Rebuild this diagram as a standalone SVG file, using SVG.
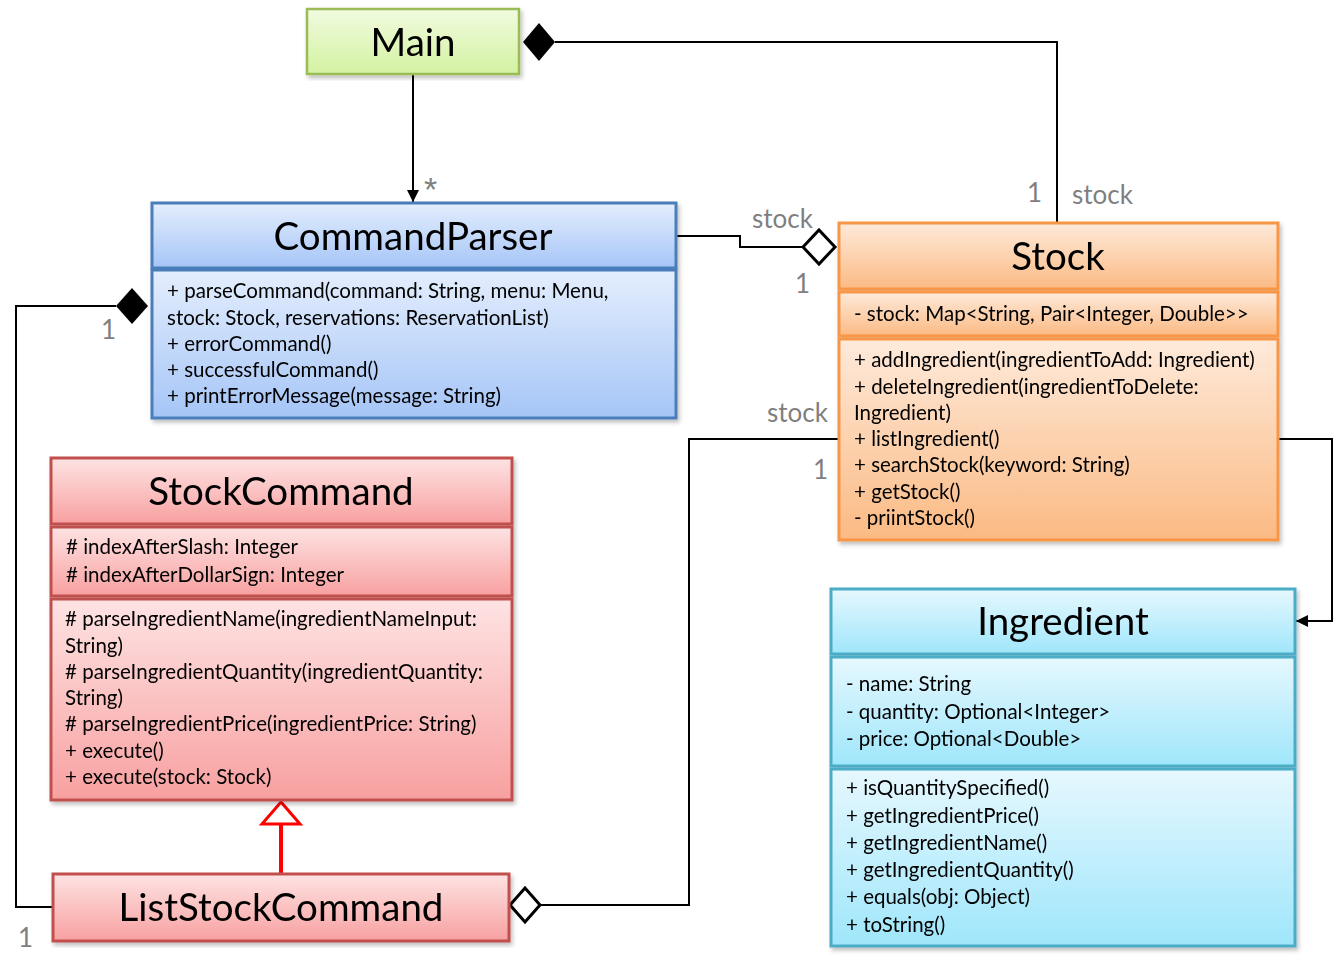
<svg xmlns="http://www.w3.org/2000/svg" width="1334" height="973" viewBox="0 0 1334 973">
<defs>
<linearGradient id="gGreen" x1="0" y1="0" x2="0" y2="1"><stop offset="0" stop-color="#f1fbdf"/><stop offset="1" stop-color="#d3f2a1"/></linearGradient>
<linearGradient id="gBlue" x1="0" y1="0" x2="0" y2="1"><stop offset="0" stop-color="#e4eefd"/><stop offset="1" stop-color="#a5c5f7"/></linearGradient>
<linearGradient id="gOrange" x1="0" y1="0" x2="0" y2="1"><stop offset="0" stop-color="#feeadb"/><stop offset="1" stop-color="#fbba83"/></linearGradient>
<linearGradient id="gRed" x1="0" y1="0" x2="0" y2="1"><stop offset="0" stop-color="#fee3e3"/><stop offset="1" stop-color="#f8a0a0"/></linearGradient>
<linearGradient id="gCyan" x1="0" y1="0" x2="0" y2="1"><stop offset="0" stop-color="#e6f8fe"/><stop offset="1" stop-color="#9fe6fb"/></linearGradient>
<filter id="sh" x="-5%" y="-5%" width="110%" height="115%"><feDropShadow dx="2" dy="3" stdDeviation="2" flood-color="#000" flood-opacity="0.25"/></filter>
<marker id="arrow" viewBox="0 0 12 12" refX="12" refY="6" markerWidth="12" markerHeight="12" markerUnits="userSpaceOnUse" orient="auto"><path d="M0,0 L12,6 L0,12 Z" fill="#000"/></marker>
</defs>
<style>
.title{font-family:Lato,"Liberation Sans",sans-serif;font-size:38.5px;fill:#000;text-anchor:middle}
.t{font-family:Lato,"Liberation Sans",sans-serif;font-size:20.5px;fill:#000}
.lbl{font-family:Lato,"Liberation Sans",sans-serif;font-size:26px;fill:#7f7f7f}
.star{font-family:"Liberation Sans",sans-serif;font-size:34px;fill:#7f7f7f}
.conn{fill:none;stroke:#000;stroke-width:2}
.green{fill:url(#gGreen);stroke:#9bbb59;stroke-width:2.5}
.blue{fill:url(#gBlue);stroke:#4a7ebb;stroke-width:3}
.orange{fill:url(#gOrange);stroke:#f79646;stroke-width:3}
.red{fill:url(#gRed);stroke:#c0504d;stroke-width:3}
.cyan{fill:url(#gCyan);stroke:#4bacc6;stroke-width:3}
</style>

<g id="connectors">
  <!-- Main -> CommandParser -->
  <line class="conn" x1="413" y1="74" x2="413" y2="202" marker-end="url(#arrow)"/>
  <text class="star" x="424" y="201">*</text>
  <!-- Main composition Stock -->
  <polyline class="conn" points="555,42 1057,42 1057,222"/>
  <path d="M523,42 L539,23 L555,42 L539,61 Z" fill="#000"/>
  <text class="lbl" x="1027" y="202">1</text>
  <text class="lbl" x="1072" y="204">stock</text>
  <!-- CommandParser aggregation Stock -->
  <polyline class="conn" points="676,236 740,236 740,247 803,247"/>
  <path d="M803,247 L819,230 L835,247 L819,264 Z" fill="#fff" stroke="#000" stroke-width="3"/>
  <text class="lbl" x="752" y="228">stock</text>
  <text class="lbl" x="795" y="293">1</text>
  <!-- Stock -> Ingredient -->
  <polyline class="conn" points="1279,439 1332,439 1332,621 1296,621" marker-end="url(#arrow)"/>
  <!-- ListStockCommand aggregation Stock -->
  <polyline class="conn" points="838,439 689,439 689,905 541,905"/>
  <path d="M510,905 L525,888 L540,905 L525,922 Z" fill="#fff" stroke="#000" stroke-width="3"/>
  <text class="lbl" x="767" y="422">stock</text>
  <text class="lbl" x="813" y="479">1</text>
  <!-- ListStockCommand composition CommandParser -->
  <polyline class="conn" points="116,306 16,306 16,907 53,907"/>
  <path d="M116,306 L132,288 L148,306 L132,324 Z" fill="#000"/>
  <text class="lbl" x="101" y="339">1</text>
  <text class="lbl" x="18" y="947">1</text>
  <!-- Generalization -->
  <line x1="281" y1="824" x2="281" y2="874" stroke="#ff0000" stroke-width="4"/>
  <path d="M281,802 L300,824 L262,824 Z" fill="#fff" stroke="#ff0000" stroke-width="3"/>
</g>

<g id="main" filter="url(#sh)">
  <rect class="green" x="307" y="9" width="212" height="65"/>
  <text class="title" x="413" y="56">Main</text>
</g>

<g id="commandparser" filter="url(#sh)">
  <rect class="blue" x="152" y="203" width="524" height="65"/>
  <rect class="blue" x="152" y="270" width="524" height="148"/>
  <text class="title" x="413" y="250">CommandParser</text>
  <text class="t" x="167" y="298">+ parseCommand(command: String, menu: Menu,</text>
  <text class="t" x="167" y="325">stock: Stock, reservations: ReservationList)</text>
  <text class="t" x="167" y="351">+ errorCommand()</text>
  <text class="t" x="167" y="377">+ successfulCommand()</text>
  <text class="t" x="167" y="403">+ printErrorMessage(message: String)</text>
</g>

<g id="stock" filter="url(#sh)">
  <rect class="orange" x="839" y="223" width="439" height="66"/>
  <rect class="orange" x="839" y="292" width="439" height="44"/>
  <rect class="orange" x="839" y="339" width="439" height="201"/>
  <text class="title" x="1058" y="270">Stock</text>
  <text class="t" x="854" y="321">- stock: Map&lt;String, Pair&lt;Integer, Double&gt;&gt;</text>
  <text class="t" x="854" y="367">+ addIngredient(ingredientToAdd: Ingredient)</text>
  <text class="t" x="854" y="394">+ deleteIngredient(ingredientToDelete:</text>
  <text class="t" x="854" y="420">Ingredient)</text>
  <text class="t" x="854" y="446">+ listIngredient()</text>
  <text class="t" x="854" y="472">+ searchStock(keyword: String)</text>
  <text class="t" x="854" y="499">+ getStock()</text>
  <text class="t" x="854" y="525">- priintStock()</text>
</g>

<g id="stockcommand" filter="url(#sh)">
  <rect class="red" x="51" y="458" width="461" height="66"/>
  <rect class="red" x="51" y="527" width="461" height="69"/>
  <rect class="red" x="51" y="599" width="461" height="201"/>
  <text class="title" x="281" y="505">StockCommand</text>
  <text class="t" x="66" y="554"># indexAfterSlash: Integer</text>
  <text class="t" x="66" y="582"># indexAfterDollarSign: Integer</text>
  <text class="t" x="65" y="626"># parseIngredientName(ingredientNameInput:</text>
  <text class="t" x="65" y="653">String)</text>
  <text class="t" x="65" y="679"># parseIngredientQuantity(ingredientQuantity:</text>
  <text class="t" x="65" y="705">String)</text>
  <text class="t" x="65" y="731"># parseIngredientPrice(ingredientPrice: String)</text>
  <text class="t" x="65" y="758">+ execute()</text>
  <text class="t" x="65" y="784">+ execute(stock: Stock)</text>
</g>

<g id="liststockcommand" filter="url(#sh)">
  <rect class="red" x="53" y="874" width="456" height="67"/>
  <text class="title" x="281" y="921">ListStockCommand</text>
</g>

<g id="ingredient" filter="url(#sh)">
  <rect class="cyan" x="831" y="589" width="464" height="65"/>
  <rect class="cyan" x="831" y="657" width="464" height="109"/>
  <rect class="cyan" x="831" y="769" width="464" height="177"/>
  <text class="title" x="1063" y="635">Ingredient</text>
  <text class="t" x="846" y="691">- name: String</text>
  <text class="t" x="846" y="719">- quantity: Optional&lt;Integer&gt;</text>
  <text class="t" x="846" y="746">- price: Optional&lt;Double&gt;</text>
  <text class="t" x="846" y="795">+ isQuantitySpecified()</text>
  <text class="t" x="846" y="823">+ getIngredientPrice()</text>
  <text class="t" x="846" y="850">+ getIngredientName()</text>
  <text class="t" x="846" y="877">+ getIngredientQuantity()</text>
  <text class="t" x="846" y="904">+ equals(obj: Object)</text>
  <text class="t" x="846" y="932">+ toString()</text>
</g>
</svg>
